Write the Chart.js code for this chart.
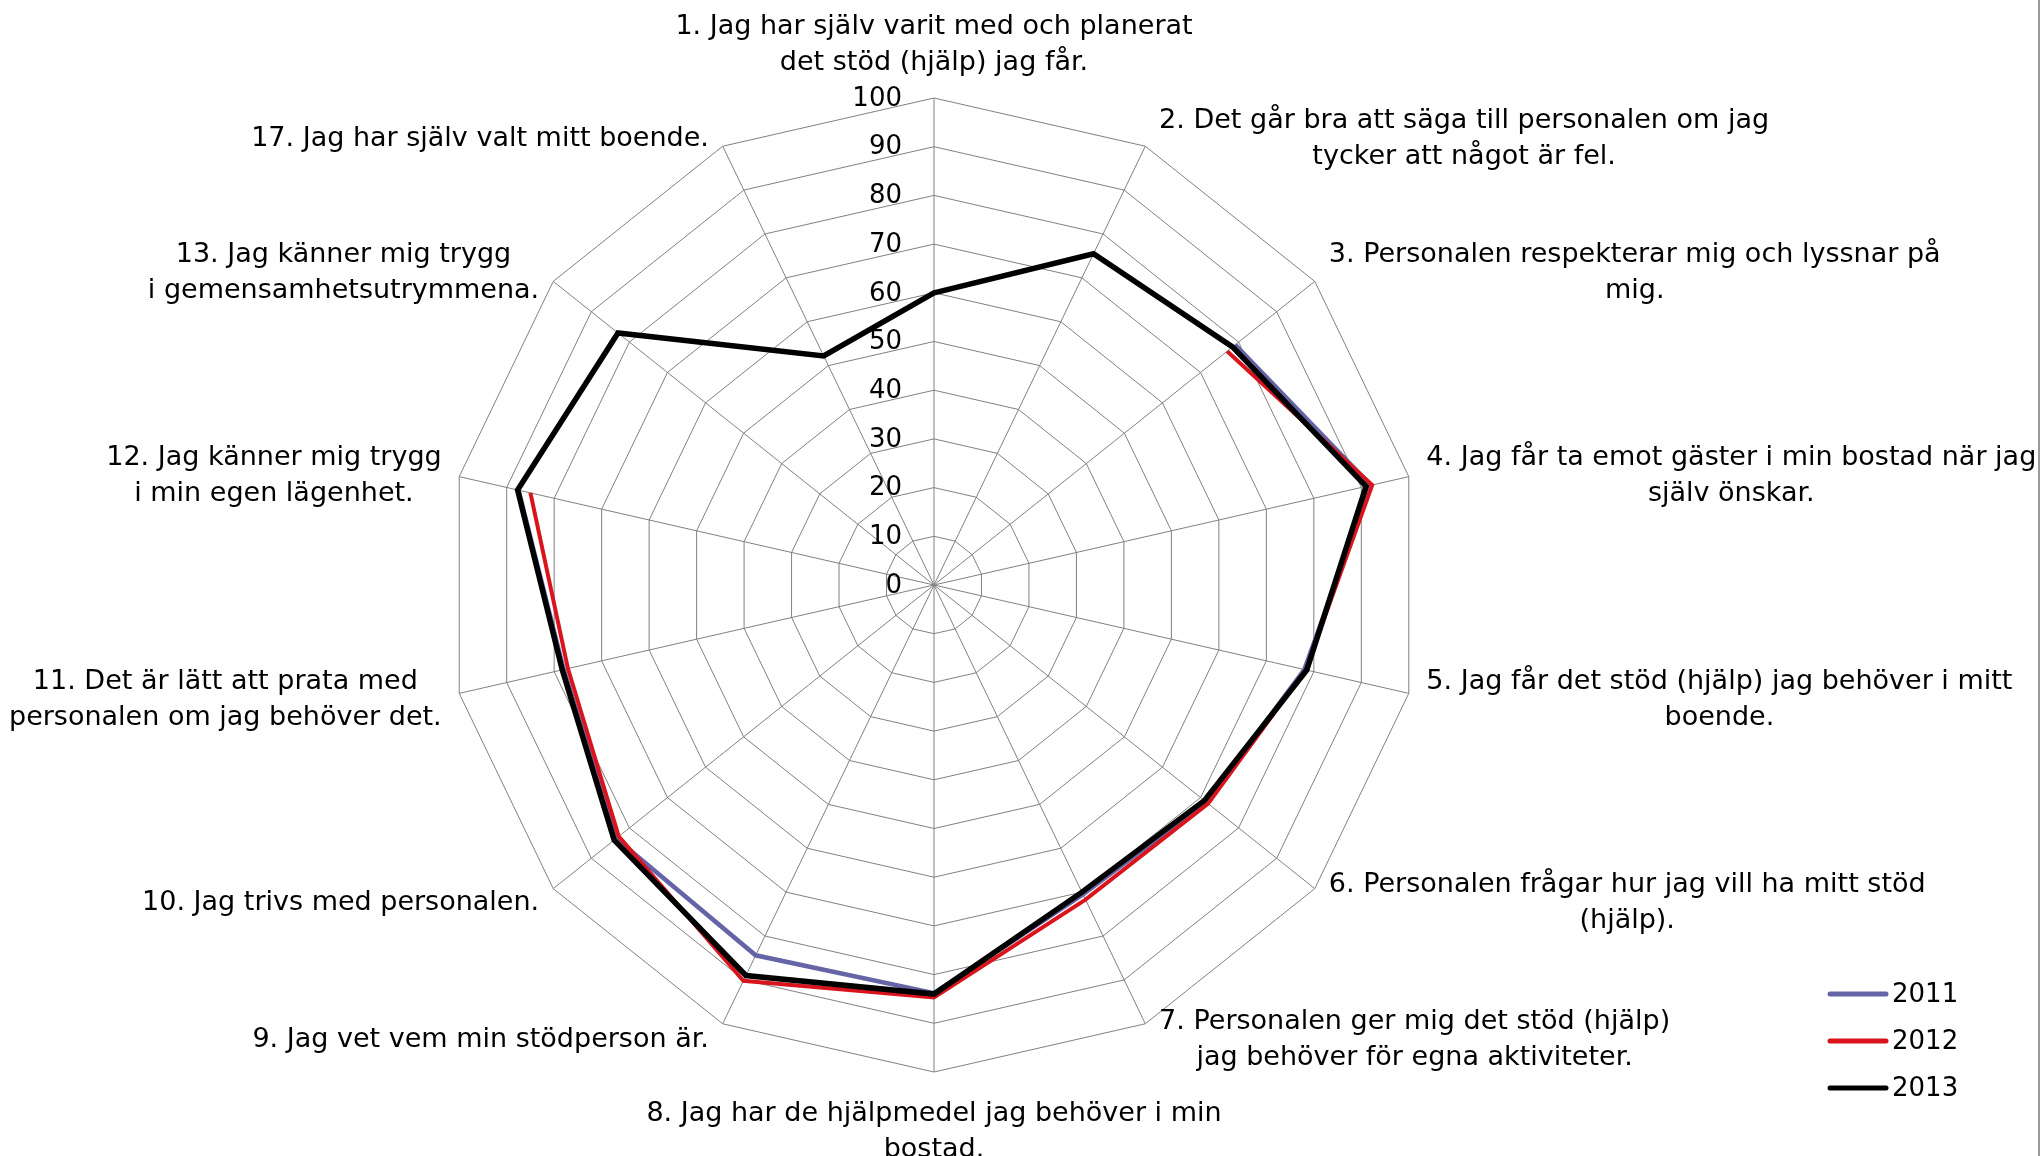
<!DOCTYPE html>
<html><head><meta charset="utf-8">
<script src="https://cdn.jsdelivr.net/npm/chart.js@4/dist/chart.umd.min.js"></script>
<style>html,body{margin:0;padding:0;background:#fff;overflow:hidden}canvas{display:block}</style>
</head><body>
<canvas id="c" width="2042" height="1156"></canvas>
<script>
const categories = [
  ["1. Jag har själv varit med och planerat", "det stöd (hjälp) jag får."],
  ["2. Det går bra att säga till personalen om jag", "tycker att något är fel."],
  ["3. Personalen respekterar mig och lyssnar på", "mig."],
  ["4. Jag får ta emot gäster i min bostad när jag", "själv önskar."],
  ["5. Jag får det stöd (hjälp) jag behöver i mitt", "boende."],
  ["6. Personalen frågar hur jag vill ha mitt stöd", "(hjälp)."],
  ["7. Personalen ger mig det stöd (hjälp)", "jag behöver för egna aktiviteter."],
  ["8. Jag har de hjälpmedel jag behöver i min", "bostad."],
  ["9. Jag vet vem min stödperson är."],
  ["10. Jag trivs med personalen."],
  ["11. Det är lätt att prata med", "personalen om jag behöver det."],
  ["12. Jag känner mig trygg", "i min egen lägenhet."],
  ["13. Jag känner mig trygg", "i gemensamhetsutrymmena."],
  ["17. Jag har själv valt mitt boende."]
];
const seriesNames = ["2011", "2012", "2013"];
const values2011 = [null, null, 79.1, 92.0, 78.0, 71.5, 70.5, 83.8, 84.4, 83.5, 78.0, 87.5, null, null];
const values2012 = [null, null, 77.0, 92.3, 78.3, 72.0, 71.7, 84.7, 90.2, 82.8, 77.1, 85.0, null, null];
const values2013 = [60.0, 75.5, 78.4, 91.0, 78.5, 71.0, 70.0, 84.0, 89.0, 84.0, 78.3, 87.7, 83.0, 52.2];
const tickLabels = ["0", "10", "20", "30", "40", "50", "60", "70", "80", "90", "100"];

const FONT = '"DejaVu Sans", Verdana, sans-serif';

const overlay = {
  id: 'overlay',
  afterDraw(chart) {
    const ctx = chart.ctx;
    const s = chart.scales.r;
    ctx.save();
    // tick labels
    ctx.font = '26px ' + FONT;
    ctx.fillStyle = '#000';
    ctx.textAlign = 'right';
    ctx.textBaseline = 'middle';
    s.ticks.forEach((t, i) => {
      const d = s.getDistanceFromCenterForValue(t.value);
      ctx.fillText(tickLabels[i], s.xCenter - 32, s.yCenter - d + 1);
    });
    // point labels
    ctx.font = '27px ' + FONT;
    const lh = 36;
    chart.data.labels.forEach((lines, i) => {
      const p = s.getPointPosition(i, s.drawingArea + 18);
      const c = Math.cos(p.angle), sn = Math.sin(p.angle);
      const w = Math.max(...lines.map(l => ctx.measureText(l).width));
      const h = lines.length * lh;
      let cx, top;
      if (Math.abs(c) < 0.05) {
        cx = p.x;
        top = sn < 0 ? p.y - h + 1 : p.y + 6;
      } else {
        let x = p.x, y = p.y + 3;
        if (Math.abs(sn) > 0.8) {
          x += c > 0 ? 6 : -6;
          y += sn < 0 ? 6 : -3;
        }
        cx = c > 0 ? x + w / 2 : x - w / 2;
        top = y - h / 2;
      }
      ctx.textAlign = 'center';
      lines.forEach((l, j) => ctx.fillText(l, cx, top + lh * (j + 0.5)));
    });
    // legend
    ctx.font = '26px ' + FONT;
    ctx.textAlign = 'left';
    chart.data.datasets.forEach((ds, i) => {
      const y = 994 + i * 47;
      ctx.strokeStyle = ds.borderColor;
      ctx.lineWidth = 5;
      ctx.lineCap = 'round';
      ctx.beginPath();
      ctx.moveTo(1830, y);
      ctx.lineTo(1886, y);
      ctx.stroke();
      ctx.fillStyle = '#000';
      ctx.fillText(ds.label, 1892, y + 1);
    });
    // right border
    ctx.strokeStyle = '#9a9a9a';
    ctx.lineWidth = 2;
    ctx.lineCap = 'butt';
    ctx.beginPath();
    ctx.moveTo(2039, 0);
    ctx.lineTo(2039, 1156);
    ctx.stroke();
    ctx.restore();
  }
};

new Chart(document.getElementById('c'), {
  type: 'radar',
  data: {
    labels: categories,
    datasets: [
      { label: seriesNames[0], data: values2011, borderColor: '#6464a6', borderWidth: 4.5, order: 3,
        backgroundColor: 'transparent', fill: false,
        segment: { borderColor: c => c.p0DataIndex === 2 ? '#3d6ff2' : undefined } },
      { label: seriesNames[1], data: values2012, borderColor: '#d9141c', borderWidth: 4, order: 2,
        backgroundColor: 'transparent', fill: false },
      { label: seriesNames[2], data: values2013, borderColor: '#000000', borderWidth: 5.5, order: 1,
        backgroundColor: 'transparent', fill: false }
    ]
  },
  options: {
    responsive: false,
    animation: false,
    layout: { padding: { left: 447, right: 621, top: 98, bottom: 84 } },
    elements: { point: { radius: 0, hoverRadius: 0 }, line: { tension: 0 } },
    plugins: { legend: { display: false }, tooltip: { enabled: false } },
    scales: {
      r: {
        min: 0, max: 100,
        ticks: { stepSize: 10, display: false },
        pointLabels: { display: false },
        grid: { color: '#808080', lineWidth: 1 },
        angleLines: { color: '#808080', lineWidth: 1 }
      }
    }
  },
  plugins: [overlay]
});
</script>
</body></html>
